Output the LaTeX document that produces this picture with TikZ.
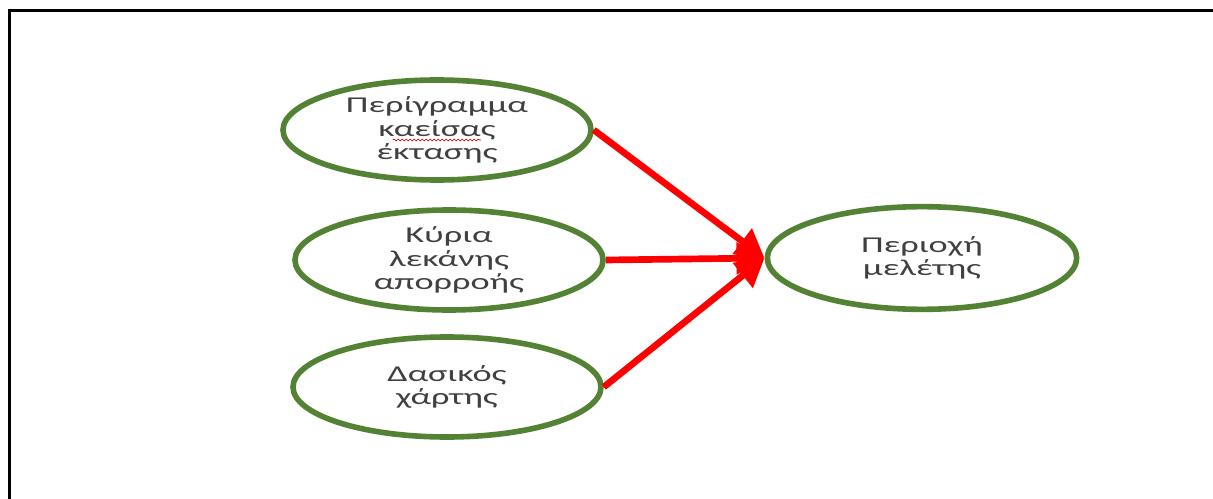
\documentclass[tikz,border=0pt]{standalone}
\usepackage{fontspec}
\setmainfont{Carlito}[FakeStretch=1.6]
\usetikzlibrary{shapes.geometric,arrows.meta,decorations.pathmorphing,calc}
\definecolor{ogreen}{RGB}{84,130,53}
\definecolor{txtgray}{RGB}{64,64,64}
\begin{document}
\begin{tikzpicture}[x=0.75pt,y=-0.75pt,
  ell/.style={ellipse,draw=ogreen,line width=4.2pt,minimum width=231pt,minimum height=75pt,
    inner sep=0pt,align=center,text=txtgray,font=\fontsize{17}{17.5}\selectfont},
  conn/.style={draw=red,line width=5pt,-{Triangle[length=21pt,width=23pt,fill=red]}},
  squiggle/.style={draw=red!80!black,line width=0.5pt,decorate,decoration={snake,amplitude=0.7pt,segment length=3pt}},
  frameline/.style={line width=2.3pt,black}]
\useasboundingbox (0,0) rectangle (1213,499);
\draw[frameline] (9.5,500) -- (9.5,10.7) -- (1213,10.7);
\node[ell] (a) at (437,130) {Περίγραμμα\\καείσας\\έκτασης};
\node[ell] (b) at (449,260) {Κύρια\\λεκάνης\\απορροής};
\node[ell] (c) at (447,387) {Δασικός\\χάρτης};
\node[ell,minimum width=232pt,minimum height=77pt] (d) at (922,258) {Περιοχή\\μελέτης};
\draw[squiggle] ($(a.center)+(-44,10)$) coordinate (s1) -- ($(a.center)+(44,10)$) coordinate (s2);
\draw[conn] (a.east) -- (d.west);
\draw[conn] (b.east) -- (d.west);
\draw[conn] (c.east) -- (d.west);
\end{tikzpicture}
\end{document}
